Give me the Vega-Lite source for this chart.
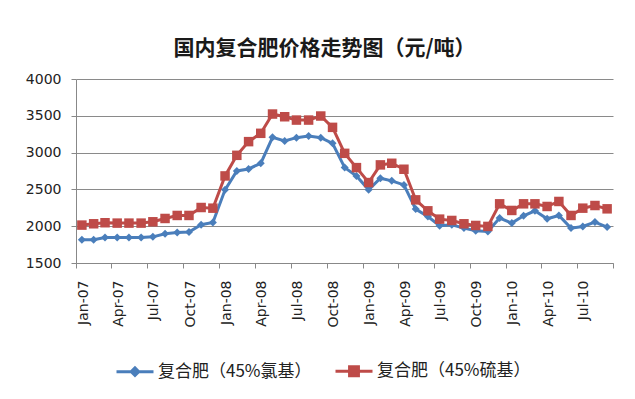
{
  "$schema": "https://vega.github.io/schema/vega-lite/v6.json",
  "width": 537,
  "height": 184,
  "autosize": {"type": "none"},
  "padding": {"left": 76, "top": 79, "right": 22, "bottom": 136},
  "background": "white",
  "title": {"text": "国内复合肥价格走势图（元/吨）", "font": "Noto Sans CJK SC", "fontSize": 21, "fontWeight": "bold", "anchor": "middle", "dx": -20, "offset": 13, "color": "#1a1a1a"},
  "config": {"view": {"stroke": null}},
  "data": {"values": [
    {"month": "2007-01-16", "series": "复合肥（45%氯基）", "price": 1816},
    {"month": "2007-02-15", "series": "复合肥（45%氯基）", "price": 1816},
    {"month": "2007-03-16", "series": "复合肥（45%氯基）", "price": 1845},
    {"month": "2007-04-16", "series": "复合肥（45%氯基）", "price": 1845},
    {"month": "2007-05-16", "series": "复合肥（45%氯基）", "price": 1845},
    {"month": "2007-06-16", "series": "复合肥（45%氯基）", "price": 1845},
    {"month": "2007-07-16", "series": "复合肥（45%氯基）", "price": 1855},
    {"month": "2007-08-16", "series": "复合肥（45%氯基）", "price": 1898},
    {"month": "2007-09-16", "series": "复合肥（45%氯基）", "price": 1915},
    {"month": "2007-10-16", "series": "复合肥（45%氯基）", "price": 1920},
    {"month": "2007-11-16", "series": "复合肥（45%氯基）", "price": 2020},
    {"month": "2007-12-16", "series": "复合肥（45%氯基）", "price": 2050},
    {"month": "2008-01-16", "series": "复合肥（45%氯基）", "price": 2494},
    {"month": "2008-02-15", "series": "复合肥（45%氯基）", "price": 2751},
    {"month": "2008-03-16", "series": "复合肥（45%氯基）", "price": 2778},
    {"month": "2008-04-16", "series": "复合肥（45%氯基）", "price": 2855},
    {"month": "2008-05-16", "series": "复合肥（45%氯基）", "price": 3207},
    {"month": "2008-06-16", "series": "复合肥（45%氯基）", "price": 3158},
    {"month": "2008-07-16", "series": "复合肥（45%氯基）", "price": 3203},
    {"month": "2008-08-16", "series": "复合肥（45%氯基）", "price": 3225},
    {"month": "2008-09-16", "series": "复合肥（45%氯基）", "price": 3203},
    {"month": "2008-10-16", "series": "复合肥（45%氯基）", "price": 3126},
    {"month": "2008-11-16", "series": "复合肥（45%氯基）", "price": 2796},
    {"month": "2008-12-16", "series": "复合肥（45%氯基）", "price": 2683},
    {"month": "2009-01-16", "series": "复合肥（45%氯基）", "price": 2494},
    {"month": "2009-02-15", "series": "复合肥（45%氯基）", "price": 2652},
    {"month": "2009-03-16", "series": "复合肥（45%氯基）", "price": 2616},
    {"month": "2009-04-16", "series": "复合肥（45%氯基）", "price": 2561},
    {"month": "2009-05-16", "series": "复合肥（45%氯基）", "price": 2232},
    {"month": "2009-06-16", "series": "复合肥（45%氯基）", "price": 2132},
    {"month": "2009-07-16", "series": "复合肥（45%氯基）", "price": 2006},
    {"month": "2009-08-16", "series": "复合肥（45%氯基）", "price": 2020},
    {"month": "2009-09-16", "series": "复合肥（45%氯基）", "price": 1974},
    {"month": "2009-10-16", "series": "复合肥（45%氯基）", "price": 1938},
    {"month": "2009-11-16", "series": "复合肥（45%氯基）", "price": 1929},
    {"month": "2009-12-16", "series": "复合肥（45%氯基）", "price": 2110},
    {"month": "2010-01-16", "series": "复合肥（45%氯基）", "price": 2042},
    {"month": "2010-02-15", "series": "复合肥（45%氯基）", "price": 2141},
    {"month": "2010-03-16", "series": "复合肥（45%氯基）", "price": 2209},
    {"month": "2010-04-16", "series": "复合肥（45%氯基）", "price": 2101},
    {"month": "2010-05-16", "series": "复合肥（45%氯基）", "price": 2146},
    {"month": "2010-06-16", "series": "复合肥（45%氯基）", "price": 1974},
    {"month": "2010-07-16", "series": "复合肥（45%氯基）", "price": 1997},
    {"month": "2010-08-16", "series": "复合肥（45%氯基）", "price": 2056},
    {"month": "2010-09-16", "series": "复合肥（45%氯基）", "price": 1988},
    {"month": "2007-01-16", "series": "复合肥（45%硫基）", "price": 2015},
    {"month": "2007-02-15", "series": "复合肥（45%硫基）", "price": 2033},
    {"month": "2007-03-16", "series": "复合肥（45%硫基）", "price": 2047},
    {"month": "2007-04-16", "series": "复合肥（45%硫基）", "price": 2042},
    {"month": "2007-05-16", "series": "复合肥（45%硫基）", "price": 2042},
    {"month": "2007-06-16", "series": "复合肥（45%硫基）", "price": 2042},
    {"month": "2007-07-16", "series": "复合肥（45%硫基）", "price": 2060},
    {"month": "2007-08-16", "series": "复合肥（45%硫基）", "price": 2105},
    {"month": "2007-09-16", "series": "复合肥（45%硫基）", "price": 2146},
    {"month": "2007-10-16", "series": "复合肥（45%硫基）", "price": 2146},
    {"month": "2007-11-16", "series": "复合肥（45%硫基）", "price": 2254},
    {"month": "2007-12-16", "series": "复合肥（45%硫基）", "price": 2245},
    {"month": "2008-01-16", "series": "复合肥（45%硫基）", "price": 2683},
    {"month": "2008-02-15", "series": "复合肥（45%硫基）", "price": 2963},
    {"month": "2008-03-16", "series": "复合肥（45%硫基）", "price": 3149},
    {"month": "2008-04-16", "series": "复合肥（45%硫基）", "price": 3262},
    {"month": "2008-05-16", "series": "复合肥（45%硫基）", "price": 3524},
    {"month": "2008-06-16", "series": "复合肥（45%硫基）", "price": 3487},
    {"month": "2008-07-16", "series": "复合肥（45%硫基）", "price": 3442},
    {"month": "2008-08-16", "series": "复合肥（45%硫基）", "price": 3442},
    {"month": "2008-09-16", "series": "复合肥（45%硫基）", "price": 3497},
    {"month": "2008-10-16", "series": "复合肥（45%硫基）", "price": 3343},
    {"month": "2008-11-16", "series": "复合肥（45%硫基）", "price": 2990},
    {"month": "2008-12-16", "series": "复合肥（45%硫基）", "price": 2796},
    {"month": "2009-01-16", "series": "复合肥（45%硫基）", "price": 2593},
    {"month": "2009-02-15", "series": "复合肥（45%硫基）", "price": 2833},
    {"month": "2009-03-16", "series": "复合肥（45%硫基）", "price": 2855},
    {"month": "2009-04-16", "series": "复合肥（45%硫基）", "price": 2774},
    {"month": "2009-05-16", "series": "复合肥（45%硫基）", "price": 2358},
    {"month": "2009-06-16", "series": "复合肥（45%硫基）", "price": 2209},
    {"month": "2009-07-16", "series": "复合肥（45%硫基）", "price": 2096},
    {"month": "2009-08-16", "series": "复合肥（45%硫基）", "price": 2078},
    {"month": "2009-09-16", "series": "复合肥（45%硫基）", "price": 2033},
    {"month": "2009-10-16", "series": "复合肥（45%硫基）", "price": 2010},
    {"month": "2009-11-16", "series": "复合肥（45%硫基）", "price": 1997},
    {"month": "2009-12-16", "series": "复合肥（45%硫基）", "price": 2304},
    {"month": "2010-01-16", "series": "复合肥（45%硫基）", "price": 2214},
    {"month": "2010-02-15", "series": "复合肥（45%硫基）", "price": 2304},
    {"month": "2010-03-16", "series": "复合肥（45%硫基）", "price": 2304},
    {"month": "2010-04-16", "series": "复合肥（45%硫基）", "price": 2268},
    {"month": "2010-05-16", "series": "复合肥（45%硫基）", "price": 2336},
    {"month": "2010-06-16", "series": "复合肥（45%硫基）", "price": 2146},
    {"month": "2010-07-16", "series": "复合肥（45%硫基）", "price": 2245},
    {"month": "2010-08-16", "series": "复合肥（45%硫基）", "price": 2281},
    {"month": "2010-09-16", "series": "复合肥（45%硫基）", "price": 2236}
  ]},
  "encoding": {
    "x": {
      "field": "month", "type": "temporal",
      "scale": {"type": "utc", "domain": [{"year": 2007, "month": 1, "date": 1, "utc": true}, {"year": 2010, "month": 10, "date": 1, "utc": true}], "nice": false},
      "axis": {
        "title": null, "format": "%b-%y", "tickCount": {"interval": "month", "step": 3},
        "labelExpr": "datum.index >= 0.999 ? '' : datum.label",
        "labelAngle": 270, "labelOffset": 7, "labelFont": "DejaVu Sans", "labelFontSize": 14, "labelColor": "#222",
        "labelPadding": 12, "tickSize": 5, "tickColor": "#888", "domainColor": "#888", "grid": false, "labelOverlap": false, "labelFlush": false
      }
    },
    "y": {
      "field": "price", "type": "quantitative",
      "scale": {"domain": [1500, 4000], "nice": false, "zero": false},
      "axis": {
        "title": null, "values": [1500, 2000, 2500, 3000, 3500, 4000], "format": "d",
        "labelFont": "DejaVu Sans", "labelFontSize": 14, "labelColor": "#222", "labelPadding": 10,
        "tickSize": 5, "tickColor": "#888", "domainColor": "#888", "gridColor": "#8a8a8a", "gridWidth": 1
      }
    }
  },
  "layer": [
    {
      "mark": {"type": "line", "strokeWidth": 3},
      "encoding": {
        "color": {
          "field": "series", "type": "nominal",
          "scale": {"domain": ["复合肥（45%氯基）", "复合肥（45%硫基）"], "range": ["#4A7EBB", "#BE4B48"]},
          "legend": {
            "orient": "none", "legendX": 39, "legendY": 272, "direction": "horizontal", "title": null,
            "symbolSize": 1369, "symbolStrokeWidth": 3, "labelFont": "Noto Sans CJK SC", "labelFontSize": 17,
            "labelColor": "#222", "columnPadding": 17, "labelOffset": 3,
            "encode": {"symbols": {"update": {
              "shape": {"signal": "datum.value === '复合肥（45%氯基）' ? 'M-1,0H1M-0.2,0L0,-0.2L0.2,0L0,0.2Z' : 'M-1,0H1M-0.24,-0.24H0.24V0.24H-0.24Z'"},
              "fill": {"signal": "datum.value === '复合肥（45%氯基）' ? '#4A7EBB' : '#BE4B48'"},
              "stroke": {"signal": "datum.value === '复合肥（45%氯基）' ? '#4A7EBB' : '#BE4B48'"}
            }}}
          }
        }
      }
    },
    {
      "transform": [{"filter": "datum.series === '复合肥（45%氯基）'"}],
      "mark": {"type": "point", "shape": "diamond", "filled": true, "size": 64, "opacity": 1, "color": "#4A7EBB"},
      "encoding": {}
    },
    {
      "transform": [{"filter": "datum.series === '复合肥（45%硫基）'"}],
      "mark": {"type": "point", "shape": "square", "filled": true, "size": 90, "opacity": 1, "color": "#BE4B48"},
      "encoding": {}
    }
  ]
}
